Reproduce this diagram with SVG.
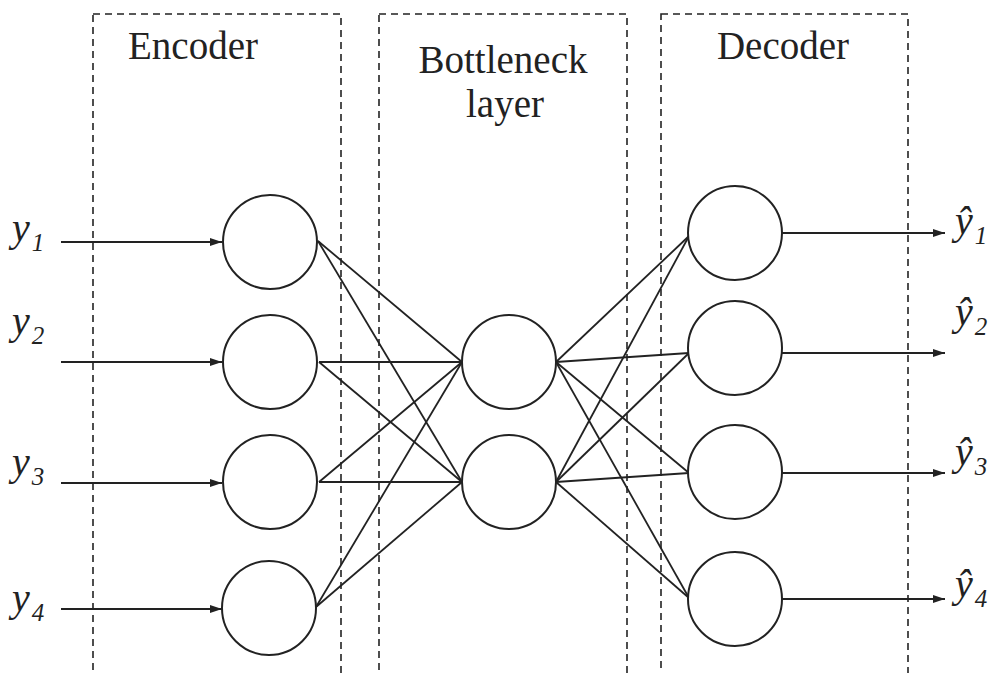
<svg xmlns="http://www.w3.org/2000/svg" width="997" height="673" viewBox="0 0 997 673">
  <style>
    .box { fill: none; stroke: #222; stroke-width: 1.6; stroke-dasharray: 7 5; }
    .node { fill: #fff; stroke: #222; stroke-width: 2; }
    .edge { stroke: #222; stroke-width: 1.8; fill: none; }
    .arrow { stroke: #222; stroke-width: 2; fill: none; marker-end: url(#head); }
    text { font-family: "Liberation Serif", Tinos, "DejaVu Serif", serif; fill: #222; }
    .title { font-size: 39px; text-anchor: middle; }
    .var { font-style: italic; font-size: 40px; }
    .sub { font-size: 25px; }
  </style>
  <defs>
    <marker id="head" viewBox="0 0 12 8" refX="12" refY="4" markerWidth="12" markerHeight="8" markerUnits="userSpaceOnUse" orient="auto">
      <path d="M0,0 L12,4 L0,8 Z" fill="#222"/>
    </marker>
  </defs>
  <rect width="997" height="673" fill="#fff"/>

  <!-- layer frames -->
  <g id="frames">
    <rect class="box" x="93" y="14" width="248" height="680"/>
    <rect class="box" x="379" y="14" width="248" height="680"/>
    <rect class="box" x="661" y="14" width="247" height="680"/>
  </g>

  <!-- layer titles -->
  <g id="titles">
    <text class="title" x="193" y="59">Encoder</text>
    <text class="title" x="503" y="73">Bottleneck</text>
    <text class="title" x="505" y="117">layer</text>
    <text class="title" x="783" y="59">Decoder</text>
  </g>

  <!-- connectors -->
  <g id="connectors">
    <!-- inputs -->
    <line class="arrow" x1="61" y1="242" x2="222" y2="242"/>
    <line class="arrow" x1="61" y1="362" x2="222" y2="362"/>
    <line class="arrow" x1="61" y1="483" x2="222" y2="483"/>
    <line class="arrow" x1="61" y1="609" x2="222" y2="609"/>
    <!-- encoder to bottleneck -->
    <line class="edge" x1="318" y1="241" x2="462" y2="362"/>
    <line class="edge" x1="318" y1="241" x2="462" y2="482"/>
    <line class="edge" x1="319" y1="362" x2="462" y2="362"/>
    <line class="edge" x1="319" y1="362" x2="462" y2="482"/>
    <line class="edge" x1="319" y1="482" x2="462" y2="362"/>
    <line class="edge" x1="319" y1="482" x2="462" y2="482"/>
    <line class="edge" x1="316" y1="607" x2="462" y2="362"/>
    <line class="edge" x1="316" y1="607" x2="462" y2="482"/>
    <!-- bottleneck to decoder -->
    <line class="edge" x1="556" y1="362" x2="689" y2="236"/>
    <line class="edge" x1="556" y1="362" x2="689" y2="353"/>
    <line class="edge" x1="556" y1="362" x2="689" y2="473"/>
    <line class="edge" x1="556" y1="362" x2="689" y2="598"/>
    <line class="edge" x1="556" y1="482" x2="689" y2="236"/>
    <line class="edge" x1="556" y1="482" x2="689" y2="353"/>
    <line class="edge" x1="556" y1="482" x2="689" y2="473"/>
    <line class="edge" x1="556" y1="482" x2="689" y2="598"/>
    <!-- outputs -->
    <line class="arrow" x1="782" y1="233" x2="945" y2="233"/>
    <line class="arrow" x1="782" y1="353" x2="945" y2="353"/>
    <line class="arrow" x1="782" y1="473" x2="945" y2="473"/>
    <line class="arrow" x1="782" y1="599" x2="945" y2="599"/>
  </g>

  <!-- encoder nodes -->
  <g id="enc1"><circle class="node" cx="270" cy="242" r="47"/></g>
  <g id="enc2"><circle class="node" cx="270" cy="362" r="47"/></g>
  <g id="enc3"><circle class="node" cx="270" cy="482" r="47"/></g>
  <g id="enc4"><circle class="node" cx="269" cy="608" r="47"/></g>

  <!-- bottleneck nodes -->
  <g id="bn1"><circle class="node" cx="509" cy="362" r="47"/></g>
  <g id="bn2"><circle class="node" cx="509" cy="482" r="47"/></g>

  <!-- decoder nodes -->
  <g id="dec1"><circle class="node" cx="735" cy="233" r="47"/></g>
  <g id="dec2"><circle class="node" cx="735" cy="348" r="47"/></g>
  <g id="dec3"><circle class="node" cx="735" cy="472" r="47"/></g>
  <g id="dec4"><circle class="node" cx="735" cy="599" r="47"/></g>

  <!-- input labels -->
  <g id="inputs">
    <text class="var" x="12" y="241">y<tspan class="sub" dx="2" dy="10">1</tspan></text>
    <text class="var" x="12" y="334">y<tspan class="sub" dx="2" dy="10">2</tspan></text>
    <text class="var" x="12" y="475">y<tspan class="sub" dx="2" dy="10">3</tspan></text>
    <text class="var" x="12" y="611">y<tspan class="sub" dx="2" dy="10">4</tspan></text>
  </g>

  <!-- output labels -->
  <g id="outputs">
    <text class="var" x="955" y="234">ŷ<tspan class="sub" dx="2" dy="10">1</tspan></text>
    <text class="var" x="955" y="325">ŷ<tspan class="sub" dx="2" dy="10">2</tspan></text>
    <text class="var" x="955" y="465">ŷ<tspan class="sub" dx="2" dy="10">3</tspan></text>
    <text class="var" x="955" y="597">ŷ<tspan class="sub" dx="2" dy="10">4</tspan></text>
  </g>
</svg>
